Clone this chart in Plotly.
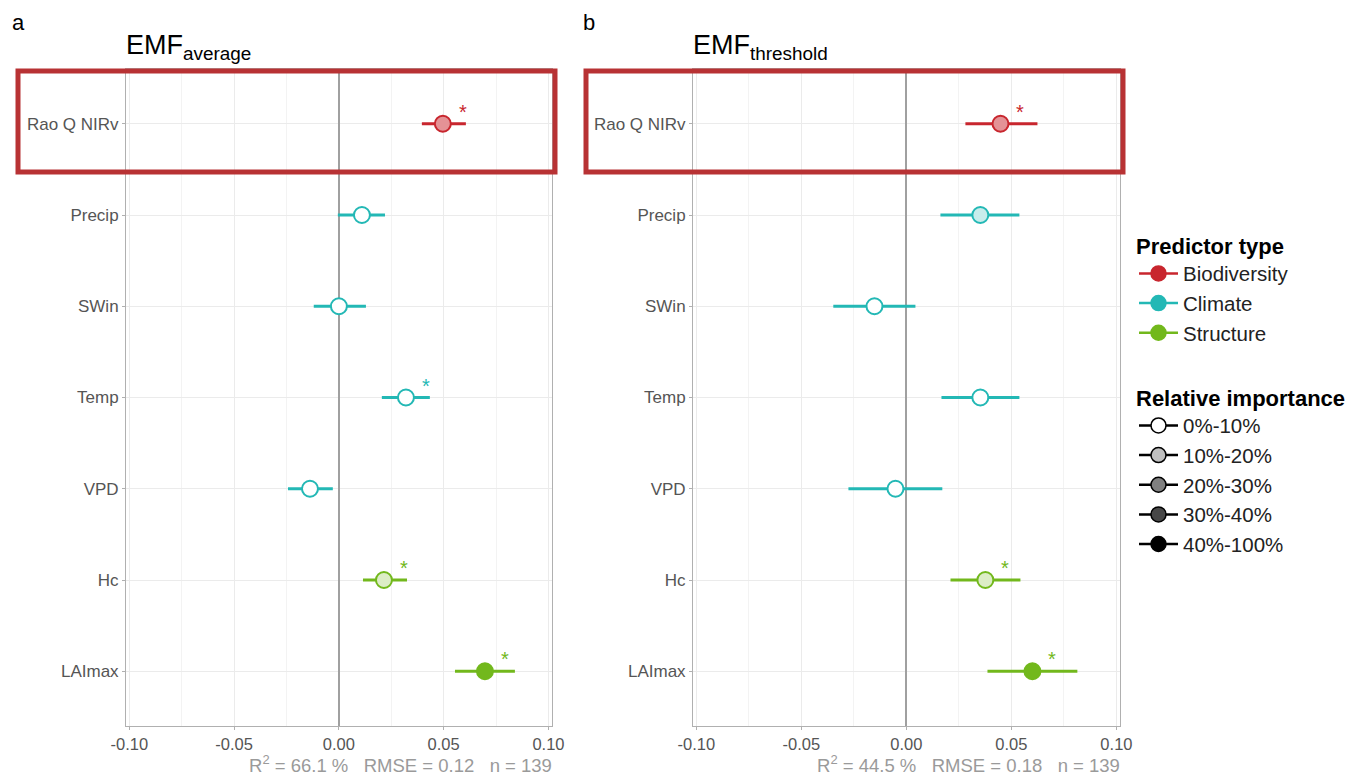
import plotly.graph_objects as go

# ---------------- data ----------------
predictors = ["Rao Q NIRv", "Precip", "SWin", "Temp", "VPD", "Hc", "LAImax"]
ptype = ["Biodiversity", "Climate", "Climate", "Climate", "Climate", "Structure", "Structure"]

est_a = [0.0496, 0.0110, 0.0000, 0.0320, -0.0138, 0.0215, 0.0697]
lo_a = [0.0396, -0.0005, -0.0120, 0.0205, -0.0243, 0.0115, 0.0554]
hi_a = [0.0606, 0.0220, 0.0129, 0.0434, -0.0029, 0.0325, 0.0840]
imp_a = ["20%-30%", "0%-10%", "0%-10%", "0%-10%", "0%-10%", "10%-20%", "40%-100%"]
sig_a = [True, False, False, True, False, True, True]

est_b = [0.0448, 0.0352, -0.0152, 0.0352, -0.0052, 0.0376, 0.0600]
lo_b = [0.0281, 0.0162, -0.0348, 0.0167, -0.0276, 0.0210, 0.0386]
hi_b = [0.0624, 0.0538, 0.0043, 0.0538, 0.0171, 0.0543, 0.0814]
imp_b = ["20%-30%", "10%-20%", "0%-10%", "0%-10%", "0%-10%", "10%-20%", "40%-100%"]
sig_b = [True, False, False, False, False, True, True]

titles_sub = ["average", "threshold"]
panel_letters = ["a", "b"]
r2 = [66.1, 44.5]
rmse = [0.12, 0.18]
n_obs = [139, 139]

x_tickvals = [-0.10, -0.05, 0.00, 0.05, 0.10]
x_ticktext = ["-0.10", "-0.05", "0.00", "0.05", "0.10"]

type_levels = ["Biodiversity", "Climate", "Structure"]
imp_levels = ["0%-10%", "10%-20%", "20%-30%", "30%-40%", "40%-100%"]

# ---------------- style ----------------
FONT = "Liberation Sans, Arial, sans-serif"
type_colors = {"Biodiversity": (200, 38, 46), "Climate": (35, 184, 181), "Structure": (114, 184, 28)}
imp_alpha = {"0%-10%": 0.0, "10%-20%": 0.25, "20%-30%": 0.5, "30%-40%": 0.72, "40%-100%": 1.0}


def rgb(c):
    return "rgb(%d,%d,%d)" % c


def blend(c, a):
    return "rgb(%d,%d,%d)" % tuple(round(255 * (1 - a) + v * a) for v in c)


W, H = 1360, 775
OFF = 8  # page body margin
px_x = lambda p: (p - OFF) / W
px_y = lambda p: 1 - (p - OFF) / H

panel_px = [(126, 552), (693, 1120)]
top_px, bot_px = 69, 726

fig = go.Figure()

panels = [
    (est_a, lo_a, hi_a, imp_a, sig_a),
    (est_b, lo_b, hi_b, imp_b, sig_b),
]

annotations = []
shapes = []

for k, (est, lo, hi, imp, sig) in enumerate(panels):
    xa = "x" if k == 0 else "x2"
    ya = "y" if k == 0 else "y2"
    for t in type_levels:
        idx = [i for i in range(len(predictors)) if ptype[i] == t]
        col = type_colors[t]
        fig.add_trace(go.Scatter(
            x=[est[i] for i in idx],
            y=[predictors[i] for i in idx],
            xaxis=xa, yaxis=ya,
            mode="markers",
            showlegend=False,
            marker=dict(size=16, color=[blend(col, imp_alpha[imp[i]]) for i in idx],
                        line=dict(color=rgb(col), width=2)),
            error_x=dict(type="data", symmetric=False,
                         array=[hi[i] - est[i] for i in idx],
                         arrayminus=[est[i] - lo[i] for i in idx],
                         color=rgb(col), thickness=3, width=0),
            hoverinfo="x+y",
        ))
        for i in idx:
            if sig[i]:
                annotations.append(dict(
                    x=est[i], y=predictors[i], xref=xa, yref=ya,
                    text="*", showarrow=False, xshift=20, yshift=12,
                    font=dict(family=FONT, size=20, color=rgb(col)),
                ))

    x0, x1 = panel_px[k]
    # panel title
    annotations.append(dict(
        x=px_x(x0 - 2), y=px_y(47), xref="paper", yref="paper",
        xanchor="left", yanchor="middle", showarrow=False,
        text="EMF<sub>%s</sub>" % titles_sub[k],
        font=dict(family=FONT, size=27, color="black"),
    ))
    # panel letter
    annotations.append(dict(
        x=px_x(x0 - 116 if k == 0 else x0 - 112), y=1, xref="paper", yref="paper",
        xanchor="left", yanchor="top", showarrow=False,
        text=panel_letters[k], font=dict(family=FONT, size=22, color="black"),
    ))
    # stats caption
    sp = "\u00a0\u00a0\u00a0"
    annotations.append(dict(
        x=px_x(x1 + 2), y=px_y(764), xref="paper", yref="paper",
        xanchor="right", yanchor="middle", showarrow=False,
        text="R<sup>2</sup> = %.1f %%%sRMSE = %.2f%sn = %d" % (r2[k], sp, rmse[k], sp, n_obs[k]),
        font=dict(family=FONT, size=18.5, color="#9a9a9a"),
    ))
    # highlight rectangle
    shapes.append(dict(
        type="rect", xref="paper", yref="paper",
        x0=px_x(x0 - 108 if k == 0 else x0 - 107), x1=px_x(x1 + 3),
        y0=px_y(172), y1=px_y(71),
        line=dict(color="#B83234", width=5), fillcolor="rgba(0,0,0,0)",
    ))

# legend entries (dummy traces)
for t in type_levels:
    fig.add_trace(go.Scatter(
        x=[None], y=[None], mode="lines+markers", name=t, legend="legend",
        line=dict(color=rgb(type_colors[t]), width=2.5),
        marker=dict(size=15, color=rgb(type_colors[t]), line=dict(color=rgb(type_colors[t]), width=1.5)),
    ))
for lv in imp_levels:
    fig.add_trace(go.Scatter(
        x=[None], y=[None], mode="lines+markers", name=lv, legend="legend2",
        line=dict(color="black", width=2.5),
        marker=dict(size=15, color=blend((0, 0, 0), imp_alpha[lv]), line=dict(color="black", width=1.5)),
    ))

axis_common = dict(
    showline=True, mirror=True, linecolor="#b0b0b0", linewidth=1,
    ticks="outside", ticklen=3, tickcolor="#b0b0b0",
    showgrid=True, gridcolor="#ebebeb", gridwidth=1, automargin=False,
)

for k in range(2):
    x0, x1 = panel_px[k]
    xdom = [px_x(x0), px_x(x1)]
    ydom = [px_y(bot_px), px_y(top_px)]
    xkey = "xaxis" if k == 0 else "xaxis2"
    ykey = "yaxis" if k == 0 else "yaxis2"
    fig.update_layout(**{
        xkey: dict(axis_common, domain=xdom, range=[-0.1016, 0.1017],
                   tickvals=x_tickvals, ticktext=x_ticktext,
                   tickfont=dict(family=FONT, size=16.5, color="#555555"),
                   zeroline=True, zerolinecolor="#a0a0a0", zerolinewidth=1.5,
                   minor=dict(dtick=0.025, tick0=0, showgrid=True, gridcolor="#f3f3f3", ticks=""),
                   anchor="y" if k == 0 else "y2"),
        ykey: dict(axis_common, domain=ydom, type="category",
                   categoryorder="array", categoryarray=predictors,
                   tickfont=dict(family=FONT, size=17, color="#555555"),
                   range=[len(predictors) - 0.4, -0.6], zeroline=False,
                   anchor="x" if k == 0 else "x2"),
    })

legend_common = dict(
    xanchor="left", yanchor="top",
    font=dict(family=FONT, size=20.5, color="#222222"),
    itemwidth=39, bgcolor="rgba(0,0,0,0)", tracegroupgap=0,
)


def legend_title(txt):
    return dict(text='<span style="font-size:22px"><b>%s</b></span>' % txt, side="top",
                font=dict(family=FONT, size=52, color="black"))


fig.update_layout(
    width=W, height=H,
    margin=dict(l=0, r=0, t=0, b=0, autoexpand=False),
    plot_bgcolor="white", paper_bgcolor="white",
    font=dict(family=FONT),
    annotations=annotations, shapes=shapes,
    showlegend=True,
    legend=dict(legend_common, x=px_x(1134), y=px_y(186), title=legend_title("Predictor type")),
    legend2=dict(legend_common, x=px_x(1134), y=px_y(338), title=legend_title("Relative importance")),
)

fig.write_html("out.html")
